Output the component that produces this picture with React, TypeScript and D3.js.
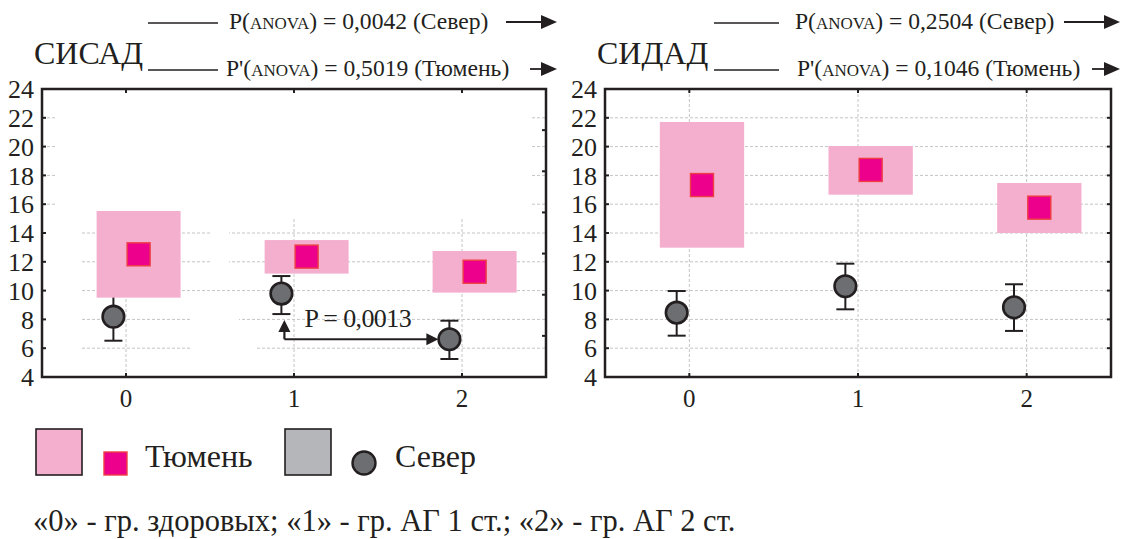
import React from "react";
import * as d3 from "d3";

// ---------- data ----------
const categories = [0, 1, 2];
const yTicks = [4, 6, 8, 10, 12, 14, 16, 18, 20, 22, 24];

// СИСАД
const sisadTyumenMean = [12.52, 12.36, 11.31];
const sisadTyumenLow = [9.51, 11.18, 9.86];
const sisadTyumenHigh = [15.53, 13.51, 12.75];
const sisadSeverMean = [8.19, 9.79, 6.62];
const sisadSeverLow = [6.52, 8.37, 5.25];
const sisadSeverHigh = [9.86, 11.01, 7.91];

// СИДАД
const sidadTyumenMean = [17.33, 18.38, 15.76];
const sidadTyumenLow = [12.98, 16.66, 14.0];
const sidadTyumenHigh = [21.71, 20.04, 17.47];
const sidadSeverMean = [8.47, 10.3, 8.84];
const sidadSeverLow = [6.87, 8.7, 7.2];
const sidadSeverHigh = [9.97, 11.87, 10.44];

const panelTitles = ["СИСАД", "СИДАД"];
const pSever = ["0,0042", "0,2504"];
const pTyumen = ["0,5019", "0,1046"];
const pairP = "0,0013";
const legendLabels = ["Тюмень", "Север"];
const footer = "«0» - гр. здоровых; «1» - гр. АГ 1 ст.; «2» - гр. АГ 2 ст.";

// ---------- style ----------
const INK = "#231f20";
const PINK = "#f4afcf";
const MAGENTA = "#ec008c";
const RED = "#ef3e42";
const GRAY = "#6d6e71";
const LGRAY = "#b5b6b9";
const GRID = "#c4c4c4";
const FONT = "'Liberation Serif', 'Times New Roman', serif";

const TOP = 89;
const BOTTOM = 377;
const OFF = 0.075;
const HALF = 0.25;

const panels = [
  {
    x0: 42, x1: 546,
    tm: sisadTyumenMean, tl: sisadTyumenLow, th: sisadTyumenHigh,
    sm: sisadSeverMean, sl: sisadSeverLow, sh: sisadSeverHigh,
    titleX: 34, lineX: [148, 218], textX: [229, 226], arrowStart: [506, 530], arrowEnd: 557,
    rightTicks: 7,
    masks: [
      [57, 91, 473, 127],
      [44, 218, 38, 157],
      [211, 225, 18, 45],
      [191, 312, 48, 16],
      [191, 341, 66, 14],
    ],
  },
  {
    x0: 605, x1: 1111,
    tm: sidadTyumenMean, tl: sidadTyumenLow, th: sidadTyumenHigh,
    sm: sidadSeverMean, sl: sidadSeverLow, sh: sidadSeverHigh,
    titleX: 597, lineX: [714, 779], textX: [795, 797], arrowStart: [1064, 1092], arrowEnd: 1120,
    rightTicks: 10,
    masks: [],
  },
];

function Arrow({ x1, x2, y }: { x1: number; x2: number; y: number }) {
  return (
    <g>
      <line x1={x1} x2={x2 - 12} y1={y} y2={y} stroke={INK} strokeWidth={1.8} />
      <path d={`M${x2},${y} L${x2 - 16},${y - 7} L${x2 - 16},${y + 7} Z`} fill={INK} />
    </g>
  );
}

function Panel({ p, idx }: { p: any; idx: number }) {
  const x = d3.scaleLinear().domain([-0.5, 2.5]).range([p.x0, p.x1]);
  const y = d3.scaleLinear().domain([4, 24]).range([BOTTOM, TOP]);
  const y2 = d3.scaleLinear().domain([0, p.rightTicks]).range([BOTTOM, TOP]);
  const sq = 23;
  const rows = [21, 68];
  const labels = [
    { pre: "P(", val: pSever[idx], city: "Север" },
    { pre: "P'(", val: pTyumen[idx], city: "Тюмень" },
  ];
  return (
    <g>
      {/* header */}
      <text x={p.titleX} y={64} fontSize={32} fill={INK} fontFamily={FONT}>
        {panelTitles[idx]}
      </text>
      {rows.map((ry, i) => (
        <g key={"h" + i}>
          <line x1={p.lineX[0]} x2={p.lineX[1]} y1={ry + 2} y2={ry + 2} stroke={INK} strokeWidth={1.4} />
          <text x={p.textX[i]} y={ry + 8} fontSize={23.6} fill={INK} fontFamily={FONT}>
            {labels[i].pre}
            <tspan fontSize={17}>ANOVA</tspan>
            {`) = ${labels[i].val} (${labels[i].city})`}
          </text>
          <Arrow x1={p.arrowStart[i]} x2={p.arrowEnd} y={ry + 1} />
        </g>
      ))}

      {/* grid */}
      {yTicks.map((t) => (
        <line key={"gy" + t} x1={p.x0} x2={p.x1} y1={y(t)} y2={y(t)} stroke={GRID} strokeWidth={1} strokeDasharray="3,2" />
      ))}
      {categories.map((c) => (
        <line key={"gx" + c} x1={x(c)} x2={x(c)} y1={TOP} y2={BOTTOM} stroke={GRID} strokeWidth={1} strokeDasharray="3,2" />
      ))}
      {p.masks.map((m: number[], i: number) => (
        <rect key={"m" + i} x={m[0]} y={m[1]} width={m[2]} height={m[3]} fill="#fff" />
      ))}

      {/* Север: mean ± whiskers */}
      {categories.map((c, i) => {
        const cx = x(c - OFF);
        return (
          <g key={"s" + c}>
            <line x1={cx} x2={cx} y1={y(p.sl[i])} y2={y(p.sh[i])} stroke={INK} strokeWidth={2} />
            <line x1={cx - 9} x2={cx + 9} y1={y(p.sl[i])} y2={y(p.sl[i])} stroke={INK} strokeWidth={2} />
            <line x1={cx - 9} x2={cx + 9} y1={y(p.sh[i])} y2={y(p.sh[i])} stroke={INK} strokeWidth={2} />
            <circle cx={cx} cy={y(p.sm[i])} r={10.8} fill={GRAY} stroke={INK} strokeWidth={2.6} />
          </g>
        );
      })}

      {/* Тюмень: boxes + mean squares */}
      {categories.map((c, i) => (
        <g key={"t" + c}>
          <rect
            x={x(c + OFF - HALF)}
            width={x(c + OFF + HALF) - x(c + OFF - HALF)}
            y={y(p.th[i])}
            height={y(p.tl[i]) - y(p.th[i])}
            fill={PINK}
          />
          <rect
            x={x(c + OFF) - sq / 2}
            y={y(p.tm[i]) - sq / 2}
            width={sq}
            height={sq}
            fill={MAGENTA}
            stroke={RED}
            strokeWidth={1.4}
          />
        </g>
      ))}

      {/* frame and ticks */}
      <rect x={p.x0} y={TOP} width={p.x1 - p.x0} height={BOTTOM - TOP} fill="none" stroke={INK} strokeWidth={2.5} />
      {yTicks.map((t) => (
        <g key={"ty" + t}>
          <line x1={p.x0} x2={p.x0 + 4} y1={y(t)} y2={y(t)} stroke={INK} strokeWidth={2} />
          <text x={p.x0 - 8} y={y(t)} dy="0.35em" textAnchor="end" fontSize={26} fill={INK} fontFamily={FONT}>
            {t}
          </text>
        </g>
      ))}
      {y2.ticks(p.rightTicks).map((t) => (
        <line key={"tr" + t} x1={p.x1 - 4} x2={p.x1} y1={y2(t)} y2={y2(t)} stroke={INK} strokeWidth={2} />
      ))}
      {categories.map((c) => (
        <g key={"tx" + c}>
          <line x1={x(c)} x2={x(c)} y1={TOP} y2={TOP + 4} stroke={INK} strokeWidth={2} />
          <line x1={x(c)} x2={x(c)} y1={BOTTOM} y2={BOTTOM - 4} stroke={INK} strokeWidth={2} />
          <text x={x(c)} y={407} textAnchor="middle" fontSize={25} fill={INK} fontFamily={FONT}>
            {c}
          </text>
        </g>
      ))}

      {/* pairwise comparison annotation (СИСАД only) */}
      {idx === 0 && (() => {
        const ax = x(1 - OFF) + 3;
        const ay = y(p.sm[2]);
        const tipY = y(p.sl[1]) + 6;
        const tipX = x(2 - OFF) - 11;
        return (
          <g>
            <line x1={ax} x2={ax} y1={tipY + 10} y2={ay} stroke={INK} strokeWidth={2.2} />
            <line x1={ax} x2={tipX - 10} y1={ay} y2={ay} stroke={INK} strokeWidth={2.2} />
            <path d={`M${ax},${tipY} L${ax - 6},${tipY + 12} L${ax + 6},${tipY + 12} Z`} fill={INK} />
            <path d={`M${tipX},${ay} L${tipX - 12},${ay - 6} L${tipX - 12},${ay + 6} Z`} fill={INK} />
            <text x={ax + 20} y={327} fontSize={26} fill={INK} fontFamily={FONT} letterSpacing={-0.6}>
              {`P = ${pairP}`}
            </text>
          </g>
        );
      })()}
    </g>
  );
}

export default function App() {
  return (
    <svg
      width={1123}
      height={539}
      style={{ position: "absolute", left: 0, top: 0, background: "#fff" }}
    >
      <rect width={1123} height={539} fill="#fff" />
      {panels.map((p, i) => (
        <Panel key={i} p={p} idx={i} />
      ))}

      {/* legend */}
      <rect x={36} y={429} width={46} height={46} fill={PINK} stroke={INK} strokeWidth={1.6} />
      <rect x={104} y={452} width={23} height={23} fill={MAGENTA} stroke={RED} strokeWidth={1.4} />
      <text x={145} y={467} fontSize={32} fill={INK} fontFamily={FONT}>
        {legendLabels[0]}
      </text>
      <rect x={285} y={429} width={46} height={46} fill={LGRAY} stroke={INK} strokeWidth={1.6} />
      <circle cx={364} cy={463} r={11.5} fill={GRAY} stroke={INK} strokeWidth={2.4} />
      <text x={395} y={467} fontSize={32} fill={INK} fontFamily={FONT}>
        {legendLabels[1]}
      </text>

      {/* footer */}
      <text x={33} y={531} fontSize={30.5} fill={INK} fontFamily={FONT}>
        {footer}
      </text>
    </svg>
  );
}
